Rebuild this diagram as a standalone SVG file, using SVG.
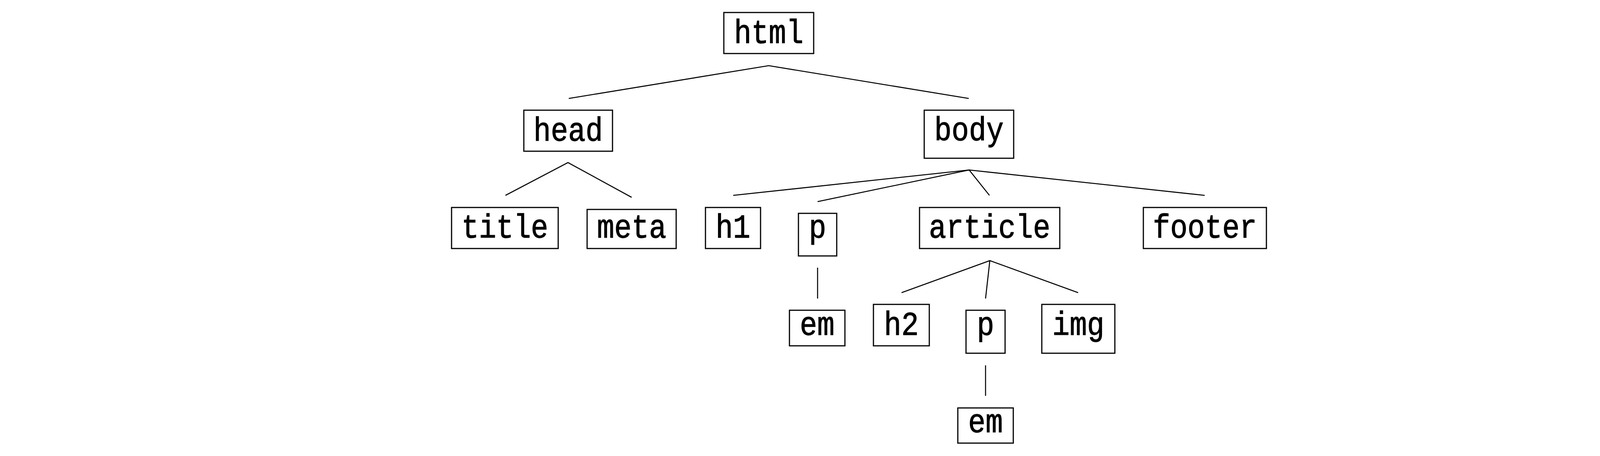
<svg xmlns="http://www.w3.org/2000/svg" width="4400" height="1167" viewBox="0 0 4400 1167">
<style>
.box{fill:#fff;stroke:#000;stroke-width:3}
.lbl{font-family:"Liberation Mono","Courier New",monospace;font-size:74px;text-anchor:middle;fill:#000;stroke:#000;stroke-width:1.2}
.edge{stroke:#000;stroke-width:2.6;fill:none;stroke-linecap:butt}
</style>
<rect width="4400" height="1167" fill="#fff"/>
<g id="connectors">
<path class="edge" d="M1456,252 L1968,168 L2480,252"/>
<path class="edge" d="M1294,500 L1454,416 L1617,505"/>
<path class="edge" d="M1877,500 L2481,435 L3084,500"/>
<path class="edge" d="M2093,516 L2481,435 L2533,500"/>
<path class="edge" d="M2093,685 L2093,764"/>
<path class="edge" d="M2308,749 L2534,667 L2760,749"/>
<path class="edge" d="M2523,764 L2534,667"/>
<path class="edge" d="M2523,935 L2523,1013"/>
</g>
<g id="n-html"><rect class="box" x="1853" y="32" width="230" height="105"/><text class="lbl" transform="translate(1968,110) scale(1,1.15)">html</text></g>
<g id="n-head"><rect class="box" x="1341" y="282" width="227" height="105"/><text class="lbl" transform="translate(1454.5,360) scale(1,1.15)">head</text></g>
<g id="n-body"><rect class="box" x="2366" y="282" width="229" height="123"/><text class="lbl" transform="translate(2480.5,359) scale(1,1.15)">body</text></g>
<g id="n-title"><rect class="box" x="1156" y="531" width="273" height="105"/><text class="lbl" transform="translate(1292.5,608) scale(1,1.15)">title</text></g>
<g id="n-meta"><rect class="box" x="1503" y="536" width="228" height="100"/><text class="lbl" transform="translate(1617,608) scale(1,1.15)">meta</text></g>
<g id="n-h1"><rect class="box" x="1806" y="531" width="141" height="105"/><text class="lbl" transform="translate(1876.5,608) scale(1,1.15)">h1</text></g>
<g id="n-p1"><rect class="box" x="2044" y="546" width="98" height="109"/><text class="lbl" transform="translate(2093,608) scale(1,1.15)">p</text></g>
<g id="n-article"><rect class="box" x="2354" y="531" width="359" height="105"/><text class="lbl" transform="translate(2533.5,608) scale(1,1.15)">article</text></g>
<g id="n-footer"><rect class="box" x="2927" y="531" width="315" height="105"/><text class="lbl" transform="translate(3084.5,608) scale(1,1.15)">footer</text></g>
<g id="n-em1"><rect class="box" x="2021" y="794" width="142" height="91"/><text class="lbl" transform="translate(2092,857) scale(1,1.15)">em</text></g>
<g id="n-h2"><rect class="box" x="2236" y="779" width="143" height="106"/><text class="lbl" transform="translate(2307.5,857) scale(1,1.15)">h2</text></g>
<g id="n-p2"><rect class="box" x="2473" y="794" width="100" height="110"/><text class="lbl" transform="translate(2523,857) scale(1,1.15)">p</text></g>
<g id="n-img"><rect class="box" x="2667" y="779" width="187" height="125"/><text class="lbl" transform="translate(2760.5,857) scale(1,1.15)">img</text></g>
<g id="n-em2"><rect class="box" x="2452" y="1044" width="142" height="90"/><text class="lbl" transform="translate(2523,1106) scale(1,1.15)">em</text></g>
</svg>
